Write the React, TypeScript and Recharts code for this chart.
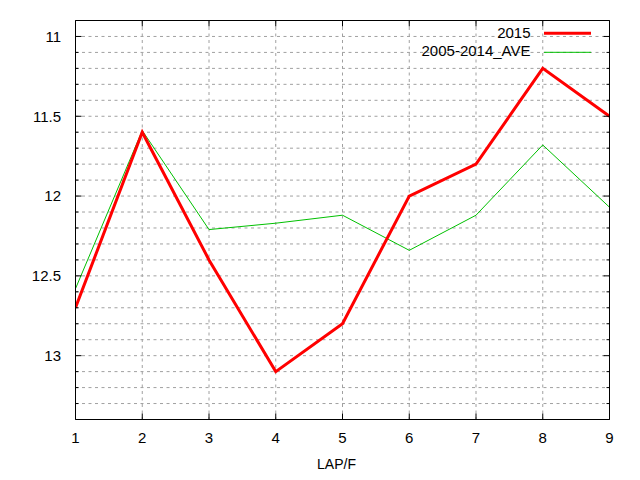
import React from 'react';
import { LineChart, Line, XAxis, YAxis, CartesianGrid, Legend, Label } from 'recharts';

const laps = [1, 2, 3, 4, 5, 6, 7, 8, 9];
const series2015 = [12.7, 11.6, 12.4, 13.1, 12.8, 12.0, 11.8, 11.2, 11.5];
const seriesAve = [12.58, 11.59, 12.21, 12.17, 12.12, 12.34, 12.12, 11.68, 12.07];
const xTicks = [1, 2, 3, 4, 5, 6, 7, 8, 9];
const yTicks = [
  11.0, 11.1, 11.2, 11.3, 11.4, 11.5, 11.6, 11.7, 11.8, 11.9,
  12.0, 12.1, 12.2, 12.3, 12.4, 12.5, 12.6, 12.7, 12.8, 12.9,
  13.0, 13.1, 13.2, 13.3,
];
const yLabels = ['11', '11.5', '12', '12.5', '13'];
const seriesNames = ['2015', '2005-2014_AVE'];

const data = laps.map((lap, i) => ({ lap, s2015: series2015[i], ave: seriesAve[i] }));

const FONT = "'Liberation Sans', Arial, sans-serif";
const FS = 15;
const RED = '#ff0000';
const GREEN = '#00c000';

const isMajor = (v: number) => Math.abs(v * 2 - Math.round(v * 2)) < 1e-6;
const labelOf = (v: number) => {
  const s = String(Math.round(v * 10) / 10);
  return yLabels.includes(s) ? s : null;
};

const LeftTick = (props: any) => {
  const { x, y, payload } = props;
  const v = payload.value;
  const major = isMajor(v);
  const lbl = labelOf(v);
  return (
    <g>
      <line x1={x} x2={x + (major ? 6 : 3)} y1={y} y2={y} stroke="#000" strokeWidth={1} />
      {lbl && (
        <text x={x - 14.5} y={y + 5.4} textAnchor="end" fontFamily={FONT} fontSize={FS} fill="#000">
          {lbl}
        </text>
      )}
    </g>
  );
};

const RightTick = (props: any) => {
  const { x, y, payload } = props;
  const major = isMajor(payload.value);
  return <line x1={x} x2={x - (major ? 6 : 3)} y1={y} y2={y} stroke="#000" strokeWidth={1} />;
};

const BottomTick = (props: any) => {
  const { x, y, payload } = props;
  return (
    <g>
      <line x1={x} x2={x} y1={y} y2={y - 6} stroke="#000" strokeWidth={1} />
      <text x={x} y={y + 23.2} textAnchor="middle" fontFamily={FONT} fontSize={FS} fill="#000">
        {payload.value}
      </text>
    </g>
  );
};

const TopTick = (props: any) => {
  const { x, y } = props;
  return <line x1={x} x2={x} y1={y} y2={y + 6} stroke="#000" strokeWidth={1} />;
};

const LegendBox = () => (
  <svg width={200} height={44} style={{ display: 'block' }}>
    <text x={130.5} y={15.8} textAnchor="end" fontFamily={FONT} fontSize={FS} fill="#000">
      {seriesNames[0]}
    </text>
    <line x1={144} x2={191} y1={11.3} y2={11.3} stroke={RED} strokeWidth={3} />
    <text x={130.5} y={33.6} textAnchor="end" fontFamily={FONT} fontSize={FS} fill="#000">
      {seriesNames[1]}
    </text>
    <line x1={144} x2={191} y1={30.3} y2={30.3} stroke={GREEN} strokeWidth={1} />
  </svg>
);

const AxisTitle = (p: any) => {
  const vb = p.viewBox || { x: 75.5, y: 419.5, width: 534 };
  return (
    <text
      x={vb.x + vb.width / 2 - 6}
      y={vb.y + 49}
      textAnchor="middle"
      fontFamily={FONT}
      fontSize={14}
      fill="#000"
    >
      LAP/F
    </text>
  );
};

export default function App() {
  return (
    <div style={{ position: 'absolute', left: 0, top: 0, width: 640, height: 480, background: '#fff' }}>
      <LineChart
        width={640}
        height={480}
        data={data}
        margin={{ top: 0, right: 0, bottom: 0, left: 0 }}
      >
        <CartesianGrid
          xAxisId="bottom"
          yAxisId="left"
          stroke="#a0a0a0"
          strokeDasharray="3 3.5"
          strokeWidth={1}
          horizontal
          vertical
        />
        <XAxis
          xAxisId="bottom"
          dataKey="lap"
          type="number"
          domain={[1, 9]}
          ticks={xTicks}
          interval={0}
          height={60.5}
          tickSize={0}
          tickMargin={0}
          tickLine={false}
          axisLine={{ stroke: '#000', strokeWidth: 1 }}
          tick={<BottomTick />}
          allowDataOverflow
        >
          <Label content={<AxisTitle />} />
        </XAxis>
        <XAxis
          xAxisId="top"
          orientation="top"
          dataKey="lap"
          type="number"
          domain={[1, 9]}
          ticks={xTicks}
          interval={0}
          height={20.5}
          tickSize={0}
          tickMargin={0}
          tickLine={false}
          axisLine={{ stroke: '#000', strokeWidth: 1 }}
          tick={<TopTick />}
          allowDataOverflow
        />
        <YAxis
          yAxisId="left"
          type="number"
          domain={[10.9, 13.4]}
          reversed
          ticks={yTicks}
          interval={0}
          width={75.5}
          tickSize={0}
          tickMargin={0}
          tickLine={false}
          axisLine={{ stroke: '#000', strokeWidth: 1 }}
          tick={<LeftTick />}
          allowDataOverflow
        />
        <YAxis
          yAxisId="right"
          orientation="right"
          type="number"
          domain={[10.9, 13.4]}
          reversed
          ticks={yTicks}
          interval={0}
          width={30.5}
          tickSize={0}
          tickMargin={0}
          tickLine={false}
          axisLine={{ stroke: '#000', strokeWidth: 1 }}
          tick={<RightTick />}
          allowDataOverflow
        />
        <Legend
          layout="horizontal"
          verticalAlign="middle"
          align="center"
          content={() => <LegendBox />}
          wrapperStyle={{ position: 'absolute', top: 22, left: 400, width: 200, height: 44 }}
        />
        <Line
          xAxisId="bottom"
          yAxisId="left"
          type="linear"
          dataKey="ave"
          name={seriesNames[1]}
          stroke={GREEN}
          strokeWidth={1}
          dot={false}
          activeDot={false}
          isAnimationActive={false}
        />
        <Line
          xAxisId="bottom"
          yAxisId="left"
          type="linear"
          dataKey="s2015"
          name={seriesNames[0]}
          stroke={RED}
          strokeWidth={3}
          dot={false}
          activeDot={false}
          isAnimationActive={false}
        />
      </LineChart>
    </div>
  );
}
